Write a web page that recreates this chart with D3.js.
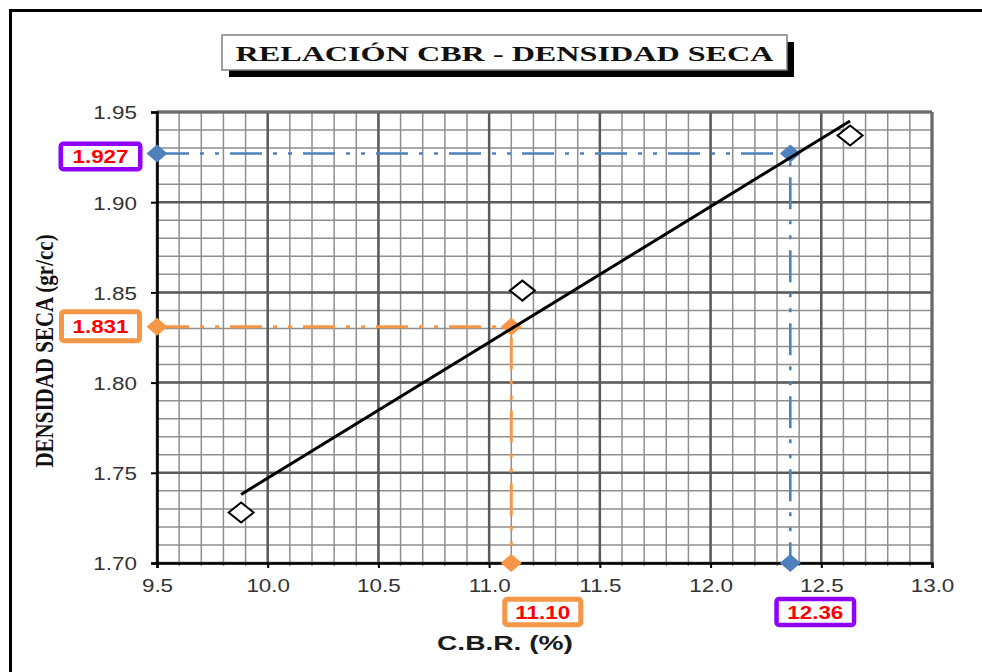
<!DOCTYPE html>
<html><head><meta charset="utf-8">
<script src="https://cdn.jsdelivr.net/npm/d3@7"></script>
<style>body{margin:0;background:#fff}</style></head>
<body><svg id="c" width="982" height="672"></svg>
<script>
const titleText = "RELACIÓN CBR - DENSIDAD SECA";
const xLabel = "C.B.R. (%)";
const yLabel = "DENSIDAD SECA (gr/cc)";
const xTicks = [9.5, 10.0, 10.5, 11.0, 11.5, 12.0, 12.5, 13.0];
const yTicks = [1.70, 1.75, 1.80, 1.85, 1.90, 1.95];
const cbrValues = [9.88, 11.15, 12.63];
const densityValues = [1.728, 1.851, 1.937];
const trendX = [9.88, 12.63];
const trendY = [1.738, 1.945];
const refCbr = [11.10, 12.36];
const refDensity = [1.831, 1.927];
const refLabelsX = ["11.10", "12.36"];
const refLabelsY = ["1.831", "1.927"];

const svg = d3.select("#c");
const x = d3.scaleLinear().domain([9.5, 13.0]).range([157, 932]);
const y = d3.scaleLinear().domain([1.70, 1.95]).range([563, 112]);

function stretch(sel, k) {
  sel.each(function () {
    const L = this.getComputedTextLength();
    d3.select(this).attr("textLength", L * k).attr("lengthAdjust", "spacingAndGlyphs");
  });
}

// outer frame
svg.append("rect").attr("x", 10.5).attr("y", 10.5).attr("width", 1000).attr("height", 700)
  .attr("fill", "#fff").attr("stroke", "#000").attr("stroke-width", 3);

// title
svg.append("rect").attr("x", 229).attr("y", 42).attr("width", 565).attr("height", 35).attr("fill", "#000");
svg.append("rect").attr("x", 222).attr("y", 35).attr("width", 565).attr("height", 35)
  .attr("fill", "#fff").attr("stroke", "#808080").attr("stroke-width", 1.5);
svg.append("text").attr("x", 504.5).attr("y", 61).attr("text-anchor", "middle")
  .attr("font-family", "Liberation Serif").attr("font-weight", "bold").attr("font-size", 21)
  .attr("fill", "#111").attr("textLength", 538).attr("lengthAdjust", "spacingAndGlyphs")
  .text(titleText);

// grid
const g = svg.append("g");
const minorX = d3.range(0, 36).map(i => 9.5 + i * 0.1);
const minorY = d3.range(0, 26).map(i => 1.70 + i * 0.01);
g.selectAll(".mx").data(minorX).join("line")
  .attr("x1", d => x(d)).attr("x2", d => x(d)).attr("y1", y(1.95)).attr("y2", y(1.70) + 3)
  .attr("stroke", "#8f8f8f").attr("stroke-width", 1.5);
g.selectAll(".my").data(minorY).join("line")
  .attr("x1", x(9.5)).attr("x2", x(13)).attr("y1", d => y(d)).attr("y2", d => y(d))
  .attr("stroke", "#8f8f8f").attr("stroke-width", 1.5);
g.selectAll(".Mx").data(xTicks).join("line")
  .attr("x1", d => x(d)).attr("x2", d => x(d)).attr("y1", y(1.95)).attr("y2", y(1.70))
  .attr("stroke", "#5a5a5a").attr("stroke-width", 2.5);
g.selectAll(".My").data(yTicks).join("line")
  .attr("x1", x(9.5)).attr("x2", x(13)).attr("y1", d => y(d)).attr("y2", d => y(d))
  .attr("stroke", "#5a5a5a").attr("stroke-width", 2.5);
// plot border top/right
g.append("line").attr("x1", x(9.5)).attr("x2", x(13)).attr("y1", y(1.95)).attr("y2", y(1.95))
  .attr("stroke", "#6a6a6a").attr("stroke-width", 3);
g.append("line").attr("x1", x(13)).attr("x2", x(13)).attr("y1", y(1.95)).attr("y2", y(1.70))
  .attr("stroke", "#6a6a6a").attr("stroke-width", 3);

// axes
const xAxis = svg.append("g").attr("transform", `translate(0,${y(1.70)})`)
  .call(d3.axisBottom(x).tickValues(xTicks).tickFormat(d3.format(".1f")).tickSize(5).tickPadding(11));
const yAxis = svg.append("g").attr("transform", `translate(${x(9.5)},0)`)
  .call(d3.axisLeft(y).tickValues(yTicks).tickFormat(d3.format(".2f")).tickSize(6).tickPadding(14));
[xAxis, yAxis].forEach(a => {
  a.select(".domain").attr("stroke", "#000").attr("stroke-width", 2.5);
  a.selectAll(".tick line").attr("stroke", "#000").attr("stroke-width", 2);
  a.selectAll(".tick text").attr("font-family", "Liberation Sans").attr("font-size", 19)
    .attr("fill", "#333");
});
yAxis.selectAll(".tick text").attr("dy", "0.36em");
stretch(xAxis.selectAll(".tick text"), 1.18);
stretch(yAxis.selectAll(".tick text"), 1.18);

// axis labels
svg.append("text").attr("x", 505).attr("y", 650).attr("text-anchor", "middle")
  .attr("font-family", "Liberation Sans").attr("font-weight", "bold").attr("font-size", 20)
  .attr("fill", "#1a1a1a").attr("textLength", 136).attr("lengthAdjust", "spacingAndGlyphs")
  .text(xLabel);
svg.append("text").attr("transform", "translate(53,351) rotate(-90) scale(1,1.2)")
  .attr("text-anchor", "middle").attr("font-family", "Liberation Serif").attr("font-weight", "bold")
  .attr("font-size", 21).attr("fill", "#111").text(yLabel);

// diamond helper
const diamond = (w, h) => `M0,${-h}L${w},0L0,${h}L${-w},0Z`;

// reference lines
const refColors = ["#F79646", "#4F81BD"];
const refWidths = [3, 2.6];
refCbr.forEach((c, i) => {
  const pts = [[x.domain()[0], refDensity[i]], [c, refDensity[i]], [c, y.domain()[0]]];
  svg.append("path").attr("d", d3.line().x(d => x(d[0])).y(d => y(d[1]))(pts))
    .attr("fill", "none").attr("stroke", refColors[i]).attr("stroke-width", refWidths[i])
    .attr("stroke-dasharray", "32,11,4,11,4,11");
  svg.selectAll(null).data(pts).join("path")
    .attr("transform", d => `translate(${x(d[0])},${y(d[1])})`)
    .attr("d", diamond(10.5, 9)).attr("fill", refColors[i]);
});

// trend line
svg.append("line").attr("x1", x(trendX[0])).attr("y1", y(trendY[0]))
  .attr("x2", x(trendX[1])).attr("y2", y(trendY[1]))
  .attr("stroke", "#000").attr("stroke-width", 3);

// data points (hollow diamonds)
svg.selectAll(".pt").data(cbrValues).join("path")
  .attr("transform", (d, i) => `translate(${x(d)},${y(densityValues[i])})`)
  .attr("d", diamond(12.5, 10)).attr("fill", "#fff").attr("stroke", "#000").attr("stroke-width", 2);

// label boxes
const boxColors = ["#F79646", "#8F00FF"];
function labelBox(cx, cy, w, h, col, sw, txt) {
  svg.append("rect").attr("x", cx - w / 2 + sw / 2).attr("y", cy - h / 2 + sw / 2)
    .attr("width", w - sw).attr("height", h - sw).attr("rx", 2.5)
    .attr("fill", "#fff").attr("stroke", col).attr("stroke-width", sw);
  const t = svg.append("text").attr("x", cx).attr("y", cy + 7).attr("text-anchor", "middle")
    .attr("font-family", "Liberation Sans").attr("font-weight", "bold").attr("font-size", 19)
    .attr("fill", "#FF0000").text(txt);
  stretch(t, 1.18);
}
refDensity.forEach((d, i) => {
  labelBox(100.5, y(d) + (i === 0 ? -0.5 : 3), i === 0 ? 83 : 84, i === 0 ? 34 : 30, boxColors[i], i === 0 ? 5 : 4.5, refLabelsY[i]);
});
refCbr.forEach((c, i) => {
  labelBox(x(c) + (i === 0 ? 31.5 : 25), 612, i === 0 ? 81 : 82, 30.5, boxColors[i], i === 0 ? 5 : 4.5, refLabelsX[i]);
});
</script>
</body></html>
